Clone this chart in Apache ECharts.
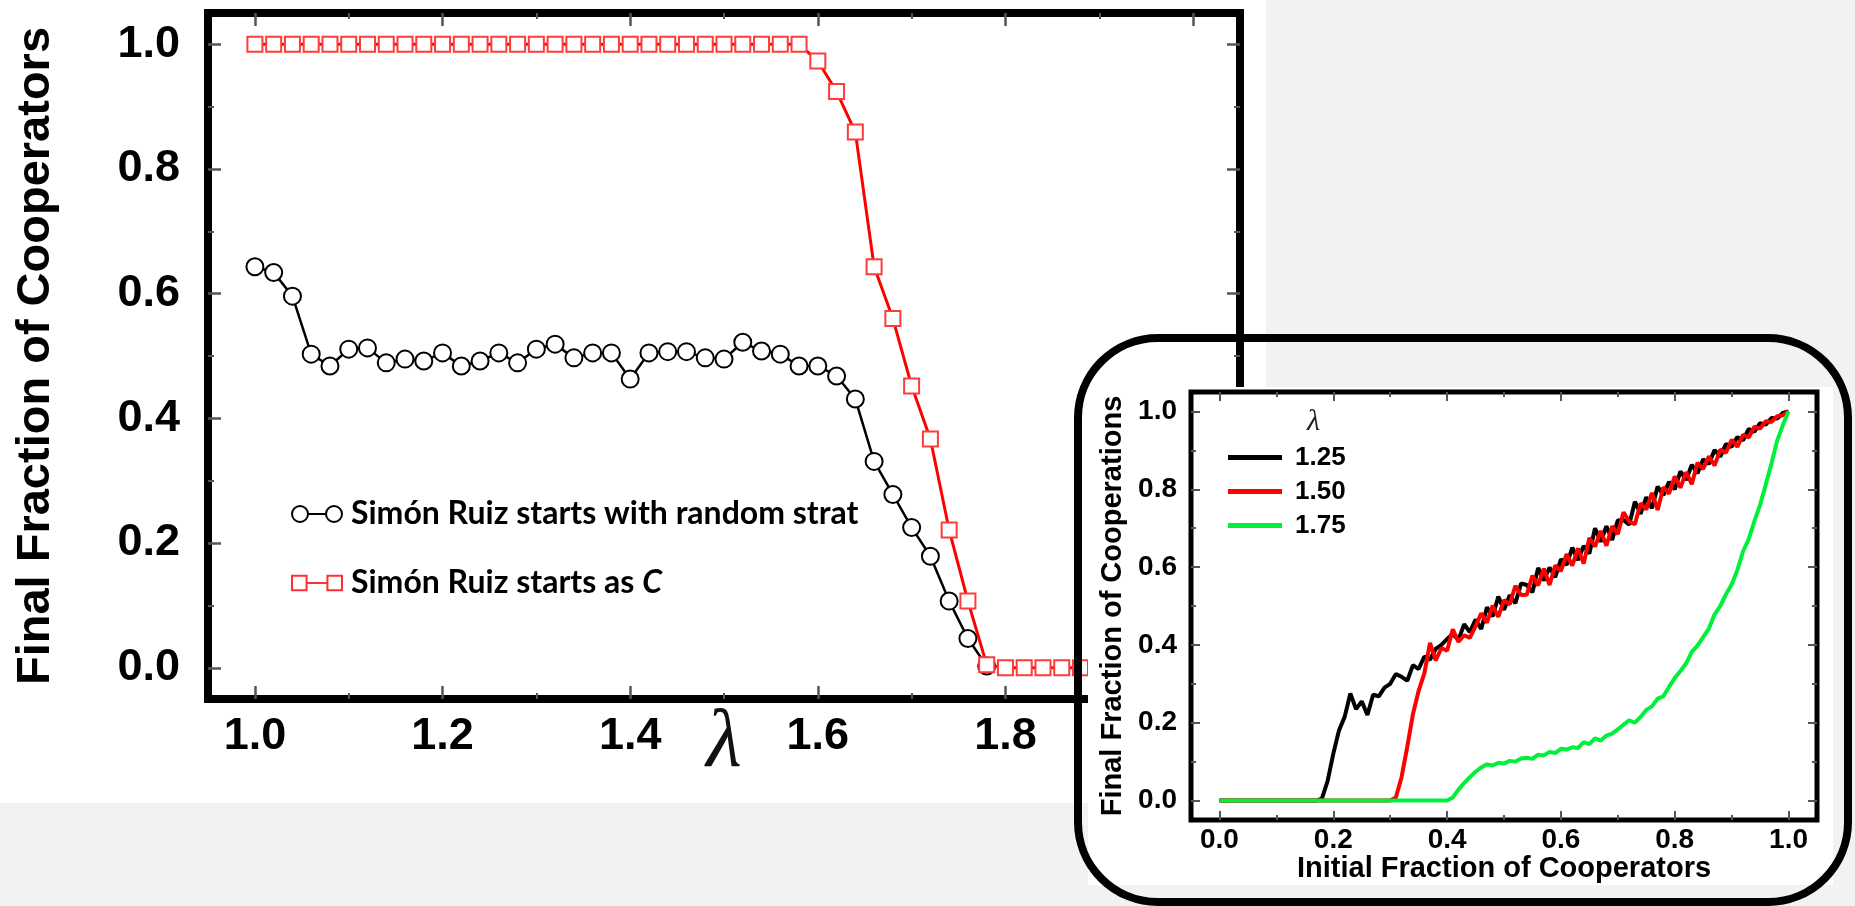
<!DOCTYPE html>
<html>
<head>
<meta charset="utf-8">
<title>Final Fraction of Cooperators</title>
<script src="https://cdn.jsdelivr.net/npm/echarts@6/dist/echarts.min.js"></script>
</head>
<body style="margin:0;">
<div id="main" style="width:1855px;height:906px;"></div>
<script>
// ---- main chart: final fraction vs lambda ----
var lambdas = [1.00, 1.02, 1.04, 1.06, 1.08, 1.10, 1.12, 1.14, 1.16, 1.18,
  1.20, 1.22, 1.24, 1.26, 1.28, 1.30, 1.32, 1.34, 1.36, 1.38,
  1.40, 1.42, 1.44, 1.46, 1.48, 1.50, 1.52, 1.54, 1.56, 1.58,
  1.60, 1.62, 1.64, 1.66, 1.68, 1.70, 1.72, 1.74, 1.76, 1.78,
  1.80, 1.82, 1.84, 1.86, 1.88, 1.90, 1.92, 1.94, 1.96, 1.98, 2.00];
// starts with random strategy (1.00 .. 1.78)
var coopRandom = [0.643, 0.634, 0.596, 0.503, 0.484, 0.511, 0.513, 0.489, 0.495, 0.492,
  0.505, 0.484, 0.492, 0.505, 0.489, 0.511, 0.519, 0.497, 0.505, 0.505,
  0.463, 0.505, 0.507, 0.507, 0.497, 0.495, 0.522, 0.508, 0.503, 0.484,
  0.484, 0.468, 0.431, 0.331, 0.278, 0.225, 0.179, 0.107, 0.047, 0.003];
// starts as C
var coopStartC = [1, 1, 1, 1, 1, 1, 1, 1, 1, 1,
  1, 1, 1, 1, 1, 1, 1, 1, 1, 1,
  1, 1, 1, 1, 1, 1, 1, 1, 1, 1,
  0.973, 0.924, 0.859, 0.643, 0.560, 0.452, 0.367, 0.221, 0.107, 0.005,
  0, 0, 0, 0, 0, 0, 0, 0, 0, 0, 0];

var nameRandom = 'Simón Ruiz starts with random strat';
var nameC = 'Simón Ruiz starts as C';

// ---- inset: final vs initial fraction ----
var initFrac = [0.00, 0.01, 0.02, 0.03, 0.04, 0.05, 0.06, 0.07, 0.08, 0.09,
  0.10, 0.11, 0.12, 0.13, 0.14, 0.15, 0.16, 0.17, 0.18, 0.19,
  0.20, 0.21, 0.22, 0.23, 0.24, 0.25, 0.26, 0.27, 0.28, 0.29,
  0.30, 0.31, 0.32, 0.33, 0.34, 0.35, 0.36, 0.37, 0.38, 0.39,
  0.40, 0.41, 0.42, 0.43, 0.44, 0.45, 0.46, 0.47, 0.48, 0.49,
  0.50, 0.51, 0.52, 0.53, 0.54, 0.55, 0.56, 0.57, 0.58, 0.59,
  0.60, 0.61, 0.62, 0.63, 0.64, 0.65, 0.66, 0.67, 0.68, 0.69,
  0.70, 0.71, 0.72, 0.73, 0.74, 0.75, 0.76, 0.77, 0.78, 0.79,
  0.80, 0.81, 0.82, 0.83, 0.84, 0.85, 0.86, 0.87, 0.88, 0.89,
  0.90, 0.91, 0.92, 0.93, 0.94, 0.95, 0.96, 0.97, 0.98, 0.99, 1.00];
var final125 = [0, 0, 0, 0, 0, 0, 0, 0, 0, 0,
  0, 0, 0, 0, 0, 0, 0, 0, 0.005, 0.05,
  0.12, 0.18, 0.215, 0.275, 0.235, 0.255, 0.22, 0.272, 0.268, 0.29,
  0.30, 0.325, 0.318, 0.308, 0.348, 0.338, 0.37, 0.362, 0.39, 0.40,
  0.415, 0.428, 0.413, 0.453, 0.433, 0.465, 0.441, 0.497, 0.473, 0.524,
  0.490, 0.528, 0.507, 0.558, 0.554, 0.535, 0.598, 0.566, 0.599, 0.574,
  0.620, 0.606, 0.650, 0.618, 0.654, 0.635, 0.700, 0.665, 0.705, 0.670,
  0.720, 0.721, 0.709, 0.768, 0.737, 0.780, 0.751, 0.807, 0.785, 0.819,
  0.800, 0.846, 0.824, 0.863, 0.841, 0.877, 0.865, 0.901, 0.884, 0.916,
  0.909, 0.934, 0.926, 0.955, 0.948, 0.970, 0.966, 0.983, 0.982, 0.996, 1.0];
var final150 = [0, 0, 0, 0, 0, 0, 0, 0, 0, 0,
  0, 0, 0, 0, 0, 0, 0, 0, 0, 0,
  0, 0, 0, 0, 0, 0, 0, 0, 0, 0,
  0, 0.008, 0.06, 0.138, 0.222, 0.282, 0.327, 0.405, 0.36, 0.392,
  0.385, 0.440, 0.408, 0.425, 0.418, 0.448, 0.481, 0.457, 0.501, 0.472,
  0.515, 0.504, 0.552, 0.528, 0.529, 0.578, 0.553, 0.596, 0.554, 0.604,
  0.590, 0.633, 0.604, 0.648, 0.609, 0.675, 0.653, 0.693, 0.655, 0.705,
  0.685, 0.741, 0.717, 0.710, 0.764, 0.748, 0.791, 0.747, 0.805, 0.789,
  0.833, 0.804, 0.844, 0.813, 0.868, 0.852, 0.885, 0.861, 0.902, 0.894,
  0.927, 0.909, 0.940, 0.933, 0.961, 0.956, 0.975, 0.973, 0.988, 0.990, 1.0];
var final175 = [0, 0, 0, 0, 0, 0, 0, 0, 0, 0,
  0, 0, 0, 0, 0, 0, 0, 0, 0, 0,
  0, 0, 0, 0, 0, 0, 0, 0, 0, 0,
  0, 0, 0, 0, 0, 0, 0, 0, 0, 0,
  0, 0.008, 0.028, 0.045, 0.060, 0.074, 0.085, 0.093, 0.090, 0.097,
  0.095, 0.102, 0.100, 0.108, 0.110, 0.107, 0.118, 0.116, 0.125, 0.122,
  0.133, 0.131, 0.137, 0.135, 0.150, 0.145, 0.160, 0.154, 0.167, 0.172,
  0.183, 0.195, 0.206, 0.200, 0.215, 0.233, 0.242, 0.262, 0.268, 0.292,
  0.315, 0.333, 0.352, 0.382, 0.398, 0.420, 0.442, 0.478, 0.500, 0.530,
  0.555, 0.592, 0.640, 0.672, 0.718, 0.760, 0.812, 0.866, 0.925, 0.965, 1.0];

// tick positions
var lambdaMajor = [1.0, 1.2, 1.4, 1.6, 1.8, 2.0];
var lambdaMinor = [1.1, 1.3, 1.5, 1.7, 1.9];
var fracMajor = [0, 0.2, 0.4, 0.6, 0.8, 1.0];
var fracMinor = [0.1, 0.3, 0.5, 0.7, 0.9];

var sans = "'Liberation Sans', Arial, sans-serif";
var legendFont = "Lato, 'Liberation Sans', sans-serif";
var serif = "'Liberation Serif', 'DejaVu Serif', serif";
var tickColor = '#555';

function pairs(xs, ys) {
  return ys.map(function (y, i) { return [xs[i], y]; });
}
function fmt(v) { return v.toFixed(1); }

// one axis = one side's set of ticks (major or minor), no axis line (grid border draws the frame)
function tickAxis(grid, pos, min, max, ticks, len, width, zlevel) {
  return {
    type: 'value', gridIndex: grid, position: pos, min: min, max: max, zlevel: zlevel,
    axisLine: { show: false, onZero: false },
    axisTick: { show: true, inside: true, length: len, customValues: ticks,
      lineStyle: { color: tickColor, width: width } },
    axisLabel: { show: false },
    splitLine: { show: false }
  };
}

// main chart axes
var mainX = tickAxis(0, 'bottom', 0.95, 2.05, lambdaMajor, 13, 2.5, 0);
mainX.axisLabel = { show: true, customValues: lambdaMajor, formatter: fmt, margin: 15,
  fontFamily: sans, fontSize: 45, fontWeight: 'bold', color: '#000' };
mainX.name = 'λ';
mainX.nameLocation = 'middle';
mainX.nameGap = 4;
mainX.nameMoveOverlap = false;
mainX.nameTextStyle = { fontFamily: serif, fontStyle: 'italic', fontSize: 82, color: '#111' };

var mainY = tickAxis(0, 'left', -0.05, 1.05, fracMajor, 13, 2.5, 0);
mainY.axisLabel = { show: true, customValues: fracMajor, formatter: fmt, margin: 28,
  fontFamily: sans, fontSize: 45, fontWeight: 'bold', color: '#000' };
mainY.name = 'Final Fraction of Cooperators';
mainY.nameLocation = 'middle';
mainY.nameGap = 148;
mainY.nameTextStyle = { fontFamily: sans, fontSize: 47, fontWeight: 'bold', color: '#000' };

// inset axes
var insetX = tickAxis(1, 'bottom', -0.05, 1.05, fracMajor, 9, 2, 1);
insetX.axisLabel = { show: true, customValues: fracMajor, formatter: fmt, margin: 6,
  fontFamily: sans, fontSize: 28, fontWeight: 'bold', color: '#000' };
insetX.name = 'Initial Fraction of Cooperators';
insetX.nameLocation = 'middle';
insetX.nameGap = 34;
insetX.nameTextStyle = { fontFamily: sans, fontSize: 29, fontWeight: 'bold', color: '#000' };

var insetY = tickAxis(1, 'left', -0.05, 1.05, fracMajor, 9, 2, 1);
insetY.axisLabel = { show: true, customValues: fracMajor, formatter: fmt, margin: 14,
  fontFamily: sans, fontSize: 28, fontWeight: 'bold', color: '#000' };
insetY.name = 'Final Fraction of Cooperations';
insetY.nameLocation = 'middle';
insetY.nameGap = 64;
insetY.nameTextStyle = { fontFamily: sans, fontSize: 29, fontWeight: 'bold', color: '#000' };

var xAxes = [
  mainX,
  tickAxis(0, 'bottom', 0.95, 2.05, lambdaMinor, 6, 2, 0),
  tickAxis(0, 'top', 0.95, 2.05, lambdaMajor, 13, 2.5, 0),
  tickAxis(0, 'top', 0.95, 2.05, lambdaMinor, 6, 2, 0),
  insetX,
  tickAxis(1, 'bottom', -0.05, 1.05, fracMinor, 5, 2, 1),
  tickAxis(1, 'top', -0.05, 1.05, fracMajor, 9, 2, 1),
  tickAxis(1, 'top', -0.05, 1.05, fracMinor, 5, 2, 1)
];
var yAxes = [
  mainY,
  tickAxis(0, 'left', -0.05, 1.05, fracMinor, 6, 2, 0),
  tickAxis(0, 'right', -0.05, 1.05, fracMajor, 13, 2.5, 0),
  tickAxis(0, 'right', -0.05, 1.05, fracMinor, 6, 2, 0),
  insetY,
  tickAxis(1, 'left', -0.05, 1.05, fracMinor, 5, 2, 1),
  tickAxis(1, 'right', -0.05, 1.05, fracMajor, 9, 2, 1),
  tickAxis(1, 'right', -0.05, 1.05, fracMinor, 5, 2, 1)
];

var circlePair = 'path://M0,8a8,8 0 1,0 16,0a8,8 0 1,0 -16,0M16,8L34,8M34,8a8,8 0 1,0 16,0a8,8 0 1,0 -16,0';
var squarePair = 'path://M1,1h14v14h-14zM15,8h20M35,1h14v14h-14z';

var myChart = echarts.init(document.getElementById('main'));
var option = {
  animation: false,
  backgroundColor: '#f2f2f2',
  graphic: [
    { type: 'rect', zlevel: 0, z: -10, silent: true,
      shape: { x: 0, y: 0, width: 1266, height: 803 }, style: { fill: '#fff' } },
    { type: 'rect', zlevel: 1, z: -10, silent: true,
      shape: { x: 1088, y: 387, width: 745, height: 498 }, style: { fill: '#fff' } },
    { type: 'rect', zlevel: 1, z: 50, silent: true,
      shape: { x: 1078, y: 338, width: 770, height: 564, r: 80 },
      style: { fill: 'none', stroke: '#000', lineWidth: 8 } }
  ],
  title: {
    text: 'λ', left: 1302, top: 402, zlevel: 1, z: 6,
    textStyle: { fontFamily: serif, fontStyle: 'italic', fontWeight: 'normal', fontSize: 30, color: '#1a1a1a' }
  },
  grid: [
    { left: 208, top: 13, right: 615, bottom: 207, show: true, borderColor: '#000', borderWidth: 8,
      backgroundColor: 'transparent', outerBoundsMode: 'none', zlevel: 0 },
    { left: 1191, top: 392, right: 38, bottom: 86, show: true, borderColor: '#000', borderWidth: 5,
      backgroundColor: 'transparent', outerBoundsMode: 'none', zlevel: 1 }
  ],
  xAxis: xAxes,
  yAxis: yAxes,
  legend: [
    {
      zlevel: 0, left: 286, top: 493, orient: 'vertical', selectedMode: false,
      itemWidth: 50, itemHeight: 16, itemGap: 37,
      textStyle: { fontFamily: legendFont, fontSize: 32, fontWeight: 'bold', color: '#000', padding: [0, 0, 0, 4],
        rich: { i: { fontFamily: legendFont, fontSize: 32, fontWeight: 'bold', fontStyle: 'italic', color: '#000' } } },
      formatter: function (name) { return name === nameC ? 'Simón Ruiz starts as {i|C}' : name; },
      data: [
        { name: nameRandom, icon: circlePair, itemStyle: { color: '#fff', borderColor: '#000', borderWidth: 2 } },
        { name: nameC, icon: squarePair, itemStyle: { color: '#fff', borderColor: '#ff3030', borderWidth: 2 } }
      ]
    },
    {
      zlevel: 1, z: 6, left: 1223, top: 439, orient: 'vertical', selectedMode: false,
      itemWidth: 54, itemHeight: 5, itemGap: 7, icon: 'rect',
      textStyle: { fontFamily: sans, fontSize: 26, fontWeight: 'bold', color: '#000', lineHeight: 27, padding: [0, 0, 0, 8] },
      data: [
        { name: '1.25', itemStyle: { color: '#000', borderWidth: 0 } },
        { name: '1.50', itemStyle: { color: '#ff0000', borderWidth: 0 } },
        { name: '1.75', itemStyle: { color: '#00f03c', borderWidth: 0 } }
      ]
    }
  ],
  series: [
    {
      name: nameRandom, type: 'line', xAxisIndex: 0, yAxisIndex: 0, zlevel: 0, z: 2,
      data: pairs(lambdas, coopRandom),
      symbol: 'emptyCircle', symbolSize: 17,
      itemStyle: { color: '#000', borderWidth: 1.5 },
      lineStyle: { color: '#000', width: 2.5 }
    },
    {
      name: nameC, type: 'line', xAxisIndex: 0, yAxisIndex: 0, zlevel: 0, z: 3,
      data: pairs(lambdas, coopStartC),
      symbol: 'emptyRect', symbolSize: 15,
      itemStyle: { color: '#ff3b3b', borderWidth: 1.5 },
      lineStyle: { color: '#ff0000', width: 3 }
    },
    {
      name: '1.25', type: 'line', xAxisIndex: 4, yAxisIndex: 4, zlevel: 1, z: 2,
      data: pairs(initFrac, final125), showSymbol: false, symbol: 'none',
      lineStyle: { color: '#000', width: 4 }, itemStyle: { color: '#000' }
    },
    {
      name: '1.50', type: 'line', xAxisIndex: 4, yAxisIndex: 4, zlevel: 1, z: 3,
      data: pairs(initFrac, final150), showSymbol: false, symbol: 'none',
      lineStyle: { color: '#ff0000', width: 4 }, itemStyle: { color: '#ff0000' }
    },
    {
      name: '1.75', type: 'line', xAxisIndex: 4, yAxisIndex: 4, zlevel: 1, z: 4,
      data: pairs(initFrac, final175), showSymbol: false, symbol: 'none',
      lineStyle: { color: '#00f03c', width: 4 }, itemStyle: { color: '#00f03c' }
    }
  ]
};
myChart.setOption(option);
</script>
</body>
</html>
